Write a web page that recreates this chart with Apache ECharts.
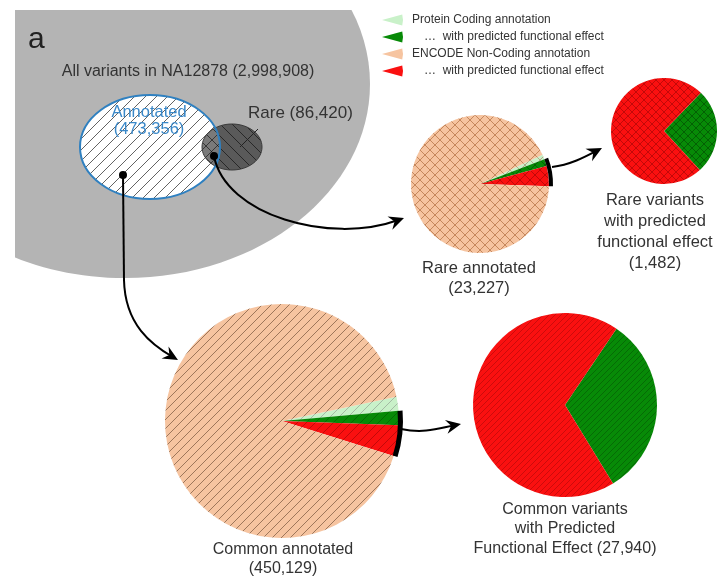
<!DOCTYPE html>
<html><head><meta charset="utf-8">
<script src="https://cdn.jsdelivr.net/npm/echarts@6/dist/echarts.min.js"></script>
<style>html,body{margin:0;padding:0;background:#fff}#c{width:718px;height:576px}</style>
</head><body><div id="c"></div>
<script>
// ---------------- data ----------------
const legendLabels = ['Protein Coding annotation', '\u2026  with predicted functional effect', 'ENCODE Non-Coding annotation', '\u2026  with predicted functional effect'];
const allVariantsLabel = 'All variants in NA12878 (2,998,908)';
const annotatedLabel = ['Annotated', '(473,356)'];
const rareLabel = 'Rare (86,420)';
// slice order: protein coding, protein coding w/ effect, non-coding w/ effect, non-coding
const rareAnnotated = [250, 385, 1097, 21495];          // total 23,227
const rarePredicted = [385, 1097];                      // green, red (1,482)
const commonAnnotated = [8750, 8890, 19050, 413439];    // total 450,129
const commonPredicted = [8890, 19050];                  // green, red (27,940)
const rareAnnotatedTitle = 'Rare annotated\n(23,227)';
const rarePredictedTitle = 'Rare variants\nwith predicted\nfunctional effect\n(1,482)';
const commonAnnotatedTitle = 'Common annotated\n(450,129)';
const commonPredictedTitle = 'Common variants\nwith Predicted\nFunctional Effect (27,940)';

// ---------------- styles ----------------
const FONT = '"Liberation Sans", Arial, sans-serif';
const C_LG = '#c9f1c9', C_G = '#078a07', C_PE = '#f6c4a0', C_R = '#fa1010';

function pattern(base, line, kind, s, lw) {
  const c = document.createElement('canvas'); c.width = s; c.height = s;
  const g = c.getContext('2d');
  g.fillStyle = base; g.fillRect(0, 0, s, s);
  g.strokeStyle = line; g.lineWidth = lw;
  g.beginPath();
  if (kind.indexOf('/') >= 0) {
    g.moveTo(-1, 1); g.lineTo(1, -1);
    g.moveTo(0, s); g.lineTo(s, 0);
    g.moveTo(s - 1, s + 1); g.lineTo(s + 1, s - 1);
  }
  if (kind.indexOf('\\') >= 0) {
    g.moveTo(0, 0); g.lineTo(s, s);
    g.moveTo(-1, s - 1); g.lineTo(1, s + 1);
    g.moveTo(s - 1, -1); g.lineTo(s + 1, 1);
  }
  g.stroke();
  return { image: c, repeat: 'repeat' };
}

const TR = 'rgba(0,0,0,0)';
function pie(center, r, start, values, colors, z) {
  return {
    type: 'pie', center: center, radius: r, startAngle: start, clockwise: true,
    silent: true, avoidLabelOverlap: false, label: { show: false }, labelLine: { show: false },
    emphasis: { disabled: true }, z: z || 2,
    data: values.map((v, i) => ({ value: v, itemStyle: { color: colors[i], borderWidth: 0 } }))
  };
}

// patterns
const p1 = [pattern(C_LG, 'rgba(150,110,80,0.55)', '/\\', 10, 1), pattern(C_G, 'rgba(0,0,0,0.3)', '/\\', 10, 1),
            pattern(C_R, 'rgba(120,0,0,0.45)', '/\\', 10, 1), pattern(C_PE, 'rgba(185,120,75,0.8)', '/\\', 10, 1)];
const p2 = [pattern(C_G, 'rgba(0,0,0,0.3)', '/\\', 8, 1), pattern(C_R, 'rgba(110,0,0,0.4)', '/\\', 8, 1)];
const p3 = [pattern(C_LG, 'rgba(140,150,140,0.6)', '/', 9, 1), pattern(C_G, 'rgba(0,40,0,0.3)', '/', 9, 1),
            pattern(C_R, 'rgba(110,0,0,0.4)', '/', 9, 1), pattern(C_PE, 'rgba(120,85,60,0.7)', '/', 9, 1)];
const p4 = [pattern(C_G, 'rgba(0,0,0,0.22)', '/', 6, 1), pattern(C_R, 'rgba(100,0,0,0.3)', '/', 6, 1)];

const series = [
  pie([480, 184], 69, 25, rareAnnotated, p1),
  pie([480, 184], [69, 73], 25, [rareAnnotated[0], rareAnnotated[1] + rareAnnotated[2], rareAnnotated[3]], [TR, '#000', TR], 3),
  pie([664, 131], 53, 46, rarePredicted, p2),
  pie([282, 421], 117, 12, commonAnnotated, p3),
  pie([282, 421], [116, 121], 12, [commonAnnotated[0], commonAnnotated[1] + commonAnnotated[2], commonAnnotated[3]], [TR, '#000', TR], 3),
  pie([565, 405], 92, 56, commonPredicted, p4)
];

// ---------------- annotation graphics ----------------
function text(x, y, str, size, color, align, lh) {
  return { type: 'text', x: x, y: y, z: 20, silent: true,
    style: { text: str, fontSize: size, fontFamily: FONT, fill: color || '#333',
             align: align || 'center', verticalAlign: 'middle', lineHeight: lh || Math.round(size * 1.25) } };
}
function arrow(p0, c1, c2, p1) {
  const ang = Math.atan2(p1[1] - c2[1], p1[0] - c2[0]);
  const L = 15, Wd = 7, N = 10;
  const ca = Math.cos(ang), sa = Math.sin(ang);
  const pt = (d, w) => [p1[0] - d * ca - w * sa, p1[1] - d * sa + w * ca];
  return [
    { type: 'bezierCurve', z: 15, silent: true,
      shape: { x1: p0[0], y1: p0[1], cpx1: c1[0], cpy1: c1[1], cpx2: c2[0], cpy2: c2[1], x2: pt(6, 0)[0], y2: pt(6, 0)[1] },
      style: { stroke: '#000', lineWidth: 2, fill: null } },
    { type: 'polygon', z: 16, silent: true,
      shape: { points: [p1, pt(L, Wd), pt(N, 0), pt(L, -Wd)] }, style: { fill: '#000' } }
  ];
}

const graphics = [];
// big gray set
graphics.push({ type: 'ellipse', z: 1, silent: true, shape: { cx: 125, cy: 84, rx: 245, ry: 194 }, style: { fill: '#b4b4b4' } });
graphics.push({ type: 'rect', z: 2, silent: true, shape: { x: 0, y: 0, width: 400, height: 10 }, style: { fill: '#fff' } });
graphics.push({ type: 'rect', z: 2, silent: true, shape: { x: 0, y: 0, width: 15, height: 300 }, style: { fill: '#fff' } });
// annotated
graphics.push({ type: 'ellipse', z: 3, silent: true, shape: { cx: 150, cy: 147, rx: 70, ry: 52 },
  style: { fill: pattern('#ffffff', 'rgba(60,60,60,0.8)', '/', 11, 1) } });
// rare
graphics.push({ type: 'ellipse', z: 4, silent: true, shape: { cx: 232, cy: 147, rx: 30, ry: 23 },
  style: { fill: pattern('rgba(25,25,25,0.58)', 'rgba(0,0,0,0.55)', '\\', 12, 1), stroke: '#3a3a3a', lineWidth: 1 } });
// annotated outline on top
graphics.push({ type: 'ellipse', z: 5, silent: true, shape: { cx: 150, cy: 147, rx: 70, ry: 52 },
  style: { fill: null, stroke: '#2f80c0', lineWidth: 2 } });
// rare leader line
graphics.push({ type: 'line', z: 6, silent: true, shape: { x1: 240, y1: 147, x2: 258, y2: 129 }, style: { stroke: '#222', lineWidth: 1 } });
// dots
graphics.push({ type: 'circle', z: 17, silent: true, shape: { cx: 123, cy: 175, r: 4 }, style: { fill: '#000' } });
graphics.push({ type: 'circle', z: 17, silent: true, shape: { cx: 214, cy: 156, r: 4 }, style: { fill: '#000' } });
// arrows
graphics.push({ type: 'line', z: 15, silent: true, shape: { x1: 123, y1: 175, x2: 124, y2: 281 }, style: { stroke: '#000', lineWidth: 2 } });
graphics.push(...arrow([124, 280], [125, 325], [152, 345], [178, 360]));
graphics.push(...arrow([214, 156], [225, 215], [330, 245], [404, 218]));
graphics.push(...arrow([552, 167], [570, 165], [585, 157], [602, 148]));
graphics.push(...arrow([401, 429], [425, 434], [440, 428], [461, 424]));

// texts
graphics.push(text(28, 40, 'a', 30, '#222', 'left'));
graphics.push(text(188, 72, allVariantsLabel, 16, '#333'));
graphics.push(text(149, 112, annotatedLabel[0], 16.5, '#3a88c8'));
graphics.push(text(149, 129, annotatedLabel[1], 16.5, '#3a88c8'));
graphics.push(text(248, 113, rareLabel, 17, '#333', 'left'));
graphics.push(text(479, 278, rareAnnotatedTitle, 16.5, '#333', 'center', 20));
graphics.push(text(655, 232, rarePredictedTitle, 16.5, '#333', 'center', 21));
graphics.push(text(283, 559, commonAnnotatedTitle, 16, '#333', 'center', 19));
graphics.push(text(565, 529, commonPredictedTitle, 16, '#333', 'center', 19.5));

// legend
const legendColors = [C_LG, C_G, C_PE, C_R];
legendLabels.forEach((lab, i) => {
  const y = 20 + i * 17;
  graphics.push({ type: 'sector', z: 10, silent: true,
    shape: { cx: 382, cy: y, r0: 0, r: 21, startAngle: -0.27, endAngle: 0.27 }, style: { fill: legendColors[i] } });
  graphics.push(text(i % 2 === 0 ? 412 : 424, y, lab, 12, '#333', 'left'));
});

const chart = echarts.init(document.getElementById('c'), null, { renderer: 'canvas' });
chart.setOption({ animation: false, backgroundColor: '#fff', series: series, graphic: graphics });
</script>
</body></html>
